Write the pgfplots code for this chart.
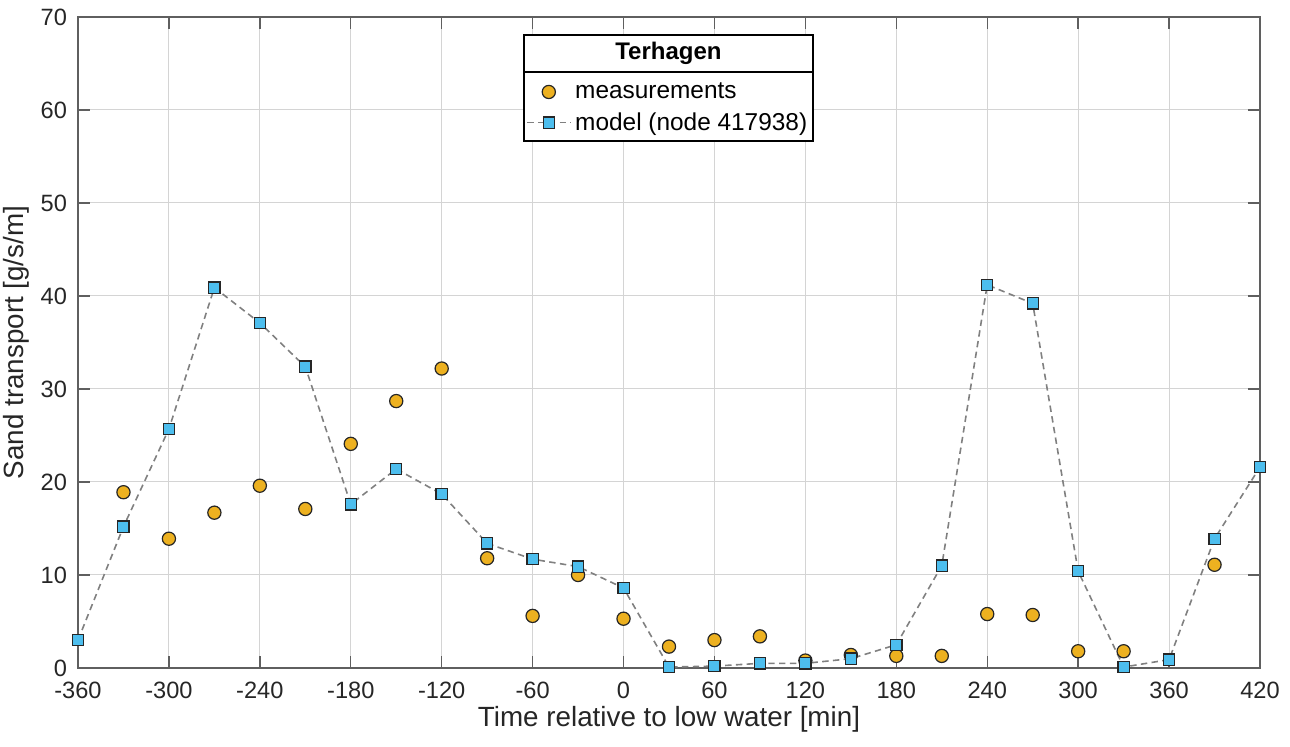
\documentclass[border=0pt]{standalone}
\usepackage{pgfplots}
\pgfplotsset{compat=1.18}
\usepackage{fontspec}
\setmainfont{Liberation Sans}
\definecolor{axgray}{RGB}{38,38,38}
\definecolor{boxgray}{RGB}{95,95,95}
\definecolor{morange}{RGB}{237,177,32}
\definecolor{mblue}{RGB}{77,190,238}
\definecolor{lgray}{RGB}{128,128,128}
\begin{document}
\begin{tikzpicture}
\begin{axis}[
  scale only axis,
  width=591pt, height=325.5pt,
  xmin=-360, xmax=420, ymin=0, ymax=70,
  xtick={-360,-300,...,420},
  ytick={0,10,...,70},
  axis line style={draw=boxgray, line width=0.7pt},
  tick align=inside,
  major tick length=6pt,
  tick style={boxgray, line width=0.7pt},
  grid=major,
  grid style={draw=black!17, line width=0.5pt},
  clip=false,
  /pgf/number format/assume math mode=true,
  /pgf/number format/.cd, set thousands separator={}, /pgfplots/.cd,
  ticklabel style={font=\fontsize{11.8}{13}\selectfont, text=axgray},
  xticklabel style={yshift=-3.5pt},
  yticklabel style={xshift=-2pt},
  xlabel={Time relative to low water [min]},
  ylabel={Sand transport [g/s/m]},
  label style={font=\fontsize{13.9}{16}\selectfont, text=axgray},
  xlabel style={yshift=3pt},
  ylabel style={yshift=-1pt},
  legend image code/.code={\draw[mark repeat=2,mark phase=2,#1] plot coordinates {(0cm,0cm) (0.38cm,0cm) (0.76cm,0cm)};},
  legend cell align=left,
  legend style={at={(axis cs:-65.7,63.85)}, anchor=north west, draw=none, fill=none,
    font=\fontsize{12.2}{14}\selectfont, row sep=1.5pt, inner xsep=1pt},
]
\draw[black, line width=0.6pt, fill=white] (axis cs:-65.7,56.67) rectangle (axis cs:125,68.06);
\draw[black, line width=0.6pt] (axis cs:-65.7,64.09) -- (axis cs:125,64.09);
\node[font=\bfseries\fontsize{12}{14}\selectfont] at (axis cs:29.65,66.1) {Terhagen};

\addplot[only marks, mark=*, mark size=3.3pt, mark options={fill=morange, draw=black!85, line width=0.6pt}]
coordinates {
(-330,18.9) (-300,13.9) (-270,16.7) (-240,19.6) (-210,17.1) (-180,24.1) (-150,28.7) (-120,32.2)
(-90,11.8) (-60,5.6) (-30,10.0) (0,5.3) (30,2.3) (60,3.0) (90,3.4) (120,0.8) (150,1.4) (180,1.3)
(210,1.3) (240,5.8) (270,5.7) (300,1.8) (330,1.8) (390,11.1)
};
\addlegendentry{measurements}

\addplot[lgray, dash pattern=on 3.2pt off 2.2pt, line width=0.8pt, mark=square*, mark size=2.8pt,
  mark options={solid, fill=mblue, draw=black!85, line width=0.6pt}]
coordinates {
(-360,3.0) (-330,15.2) (-300,25.7) (-270,40.9) (-240,37.1) (-210,32.4) (-180,17.6) (-150,21.4)
(-120,18.7) (-90,13.4) (-60,11.7) (-30,10.9) (0,8.6) (30,0.1) (60,0.2) (90,0.5) (120,0.5)
(150,1.0) (180,2.5) (210,11.0) (240,41.2) (270,39.2) (300,10.4) (330,0.1) (360,0.9) (390,13.9) (420,21.6)
};
\addlegendentry{model (node 417938)}
\end{axis}
\pgfresetboundingbox
\path[use as bounding box] (-39pt,-39.5pt) rectangle (606pt,334pt);
\end{tikzpicture}
\end{document}
